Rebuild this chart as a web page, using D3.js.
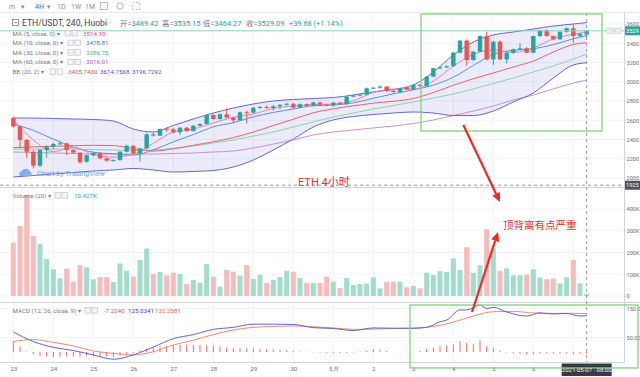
<!DOCTYPE html>
<html>
<head>
<meta charset="utf-8">
<script src="https://cdn.jsdelivr.net/npm/d3@7"></script>
<style>
  body { margin: 0; background: #fff; }
  svg { display: block; font-family: Roboto, "Noto Sans CJK SC", sans-serif; }
</style>
</head>
<body>
<div id="chart"></div>
<script>
//
// ETH/USDT 4H, Huobi - candles, MA, BB, volume, MACD
//

// x axis: one grid line per day, 6 candles per day ("7" sits under the date tag)
var dayIdx = [0, 6, 12, 18, 24, 30, 36, 42, 48, 54, 60, 66, 72, 78, 84];
var dayLabels = ["23", "24", "25", "26", "27", "28", "29", "30", "5月", "2", "3", "4", "5", "6"];

var opens  = [2623,2536,2395,2273,2128,2291,2325,2353,2360,2291, 2263,2170,2236,2260,2204,2180,2186,2273,2335,2256,
              2308,2453,2440,2513,2506,2475,2522,2488,2543,2561, 2655,2613,2662,2627,2600,2683,2678,2730,2738,2728,
              2745,2760,2772,2732,2768,2752,2785,2762,2755,2782, 2768,2845,2858,2866,2932,2938,2950,2906,2892,2945,
              2920,2968,2955,3053,3140,3150,3162,3302,3427,3226, 3312,3475,3233,3416,3233,3302,3337,3348,3302,3475,
              3530,3475,3441,3520,3555,3475,3489.42];
var highs  = [2640,2548,2405,2290,2300,2340,2365,2384,2368,2300, 2270,2245,2275,2266,2215,2195,2280,2345,2345,2315,
              2470,2470,2515,2525,2520,2530,2530,2550,2570,2665, 2665,2670,2724,2635,2690,2700,2735,2748,2755,2758,
              2768,2780,2778,2775,2775,2792,2790,2770,2790,2790, 2850,2870,2880,2940,2945,2960,2955,2912,2940,2950,
              2975,2975,3060,3145,3165,3170,3310,3435,3440,3320, 3480,3520,3425,3430,3320,3345,3400,3360,3480,3535,
              3545,3480,3525,3565,3595,3510,3535.15];
var lows   = [2520,2312,2208,2100,2115,2210,2300,2340,2239,2250, 2150,2155,2225,2195,2170,2168,2180,2265,2250,2170,
              2300,2430,2435,2480,2465,2446,2480,2482,2535,2555, 2605,2605,2620,2568,2595,2568,2672,2720,2720,2700,
              2712,2750,2720,2725,2740,2745,2755,2745,2740,2760, 2760,2835,2850,2860,2925,2930,2895,2885,2888,2915,
              2915,2945,2948,3045,3130,3140,3155,3295,3165,3215, 3305,3220,3174,3225,3190,3290,3330,3295,3295,3465,
              3470,3430,3435,3510,3400,3465,3464.27];
var closes = [2536,2395,2273,2128,2291,2325,2353,2360,2291,2263, 2163,2236,2260,2204,2180,2186,2273,2335,2256,2308,
              2453,2440,2509,2506,2475,2522,2488,2543,2561,2655, 2613,2662,2627,2600,2683,2678,2730,2738,2728,2745,
              2760,2772,2732,2768,2752,2785,2762,2755,2782,2768, 2845,2858,2866,2932,2938,2950,2906,2892,2932,2920,
              2968,2955,3053,3140,3150,3162,3302,3427,3226,3312, 3475,3233,3416,3233,3302,3337,3348,3302,3475,3530,
              3475,3441,3520,3555,3475,3495,3529.09];

// volume in thousands
var volumes = [245,322,464,276,239,170,123,81,126,66, 142,132,77,87,87,64,150,116,89,166,
               218,101,110,95,107,101,55,74,61,147, 89,43,120,112,94,142,78,98,60,74,
               87,116,112,83,60,60,60,89,66,37, 83,50,55,58,86,35,66,66,66,40,
               47,35,107,96,115,110,173,120,224,107, 142,307,219,116,127,95,95,98,123,86,
               77,81,58,86,166,58,10.4];

// indicator lines, read every 3 candles
var lineIdx = [0,3,6,9,12,15,18,21,24,27, 30,33,36,39,42,45,48,51,54,57, 60,63,66,69,72,75,78,81,84,86];
var ma5     = [2603,2395,2274,2319,2244,2216,2248,2360,2478,2508, 2572,2631,2664,2724,2747,2762,2768,2802,2888,2924,
               2924,3007,3162,3285,3333,3304,3353,3445,3493,3514.10];
var ma10    = [2560,2495,2404,2321,2268,2251,2238,2292,2376,2451, 2532,2575,2635,2681,2717,2751,2758,2780,2829,2874,
               2916,2965,3047,3169,3284,3327,3343,3386,3446,3478.81];
var ma30    = [2301,2301,2301,2301,2296,2291,2286,2291,2307,2332, 2364,2395,2436,2478,2530,2582,2634,2675,2717,2753,
               2790,2831,2873,2925,2982,3039,3101,3164,3236,3286.75];
var ma60    = [2270,2265,2260,2255,2249,2249,2249,2249,2255,2260, 2270,2281,2312,2353,2395,2447,2478,2499,2520,2540,
               2566,2603,2649,2696,2748,2810,2862,2925,2987,3016.01];
var bbUpper = [2623,2623,2618,2613,2608,2592,2509,2478,2546,2613, 2675,2727,2769,2800,2816,2826,2836,2862,2894,2920,
               2966,3101,3278,3413,3486,3517,3548,3579,3600,3614.76];
var bbBasis = [2316,2324,2330,2335,2340,2337,2304,2280,2304,2340, 2376,2420,2478,2545,2610,2678,2719,2750,2777,2797,
               2826,2888,2963,3031,3091,3153,3215,3309,3387,3405.74];
var bbLower = [2010,2026,2042,2057,2073,2083,2099,2083,2062,2068, 2078,2114,2187,2291,2405,2530,2603,2639,2660,2675,
               2686,2675,2649,2649,2696,2790,2883,3039,3174,3196.73];

// MACD (12, 26, 9)
var macdIdx  = [0,3,6,9,12,15,18,21,24,27, 30,33,36,39,42,45,48,51,54,57, 60,62,64,65,67,68,70,71,72,74, 77,79,81,83,85,86];
var macdLine = [69,36,16,5,-10,-25,-10,17,46,60, 78,85,96,96,95,84,81,74,83,82, 82,85,104,110,145,145,162,150,154,138, 124,135,131,133,124,125.03];
var signalLine = [36,43,33,21,3.5,-4.5,-10,1,24,41, 60,76,85,88,90,87,83,78,79,81, 82,88,103,124,139,140,134.5,133,133.5,132.26];
var macdHist = [38,20,2,-8,-14,-16,-17,-17,-16,-16, -16,-15,-15,-15,-16,-18,-12,-6,-3,5,
                12,16,20,22,24,25,25,24,24,23, 22,20,15,12,13,12,12,11,10,9,
                8,6,4,2,1,-1,-2,-3,-3,-4, -3,-2,2,5,10,8,4,0,-1,-1,
                1,4,11,15,20,23,26,38,31,26, 40,20,15,5,-2,-4,-6,-8,-6,-5,
                -4,-6,-5,-4,-6,-6,-7.224];

// tick labels
var priceTicks = [2000, 2200, 2400, 2600, 2800, 3000, 3200, 3400, 3600];
var volTicks = [0, 100, 200, 300, 400];
var macdTicks = [50, 150];
var macdTickLabels = ["50.00", "150.0"];

var W = 640, H = 377, plotRight = 624;
var pane = {
  main: {top: 13, bottom: 187},
  vol:  {top: 188, bottom: 302},
  macd: {top: 303, bottom: 362}
};

var x = d3.scaleLinear().domain([0, 86]).range([13.33, 586.67]);
var yPrice = d3.scaleLinear().domain([2000, 3600]).range([178, 24]);
var yVol = d3.scaleLinear().domain([0, 400]).range([296, 209]);
var yMacd = d3.scaleLinear().domain([0, 150]).range([352, 308.5]);

var up = "#26a69a", down = "#ef5350";
var txt = "#787b86", grid = "#f0f3fa", border = "#d1d4dc";

var svg = d3.select("#chart").append("svg")
    .attr("width", W)
    .attr("height", H);
svg.append("rect").attr("width", W).attr("height", H).attr("fill", "#fff");

var defs = svg.append("defs");
Object.keys(pane).forEach(function(k) {
  defs.append("clipPath").attr("id", "clip-" + k)
    .append("rect")
      .attr("x", 0).attr("y", pane[k].top)
      .attr("width", plotRight).attr("height", pane[k].bottom - pane[k].top);
});

// grid
var gridG = svg.append("g");
gridG.selectAll(".vgrid").data(dayIdx).enter().append("line")
    .attr("x1", function(d) { return x(d); }).attr("x2", function(d) { return x(d); })
    .attr("y1", pane.main.top).attr("y2", pane.macd.bottom)
    .attr("stroke", grid);
gridG.selectAll(".pgrid").data(priceTicks).enter().append("line")
    .attr("x1", 0).attr("x2", plotRight)
    .attr("y1", function(d) { return yPrice(d); }).attr("y2", function(d) { return yPrice(d); })
    .attr("stroke", grid);
gridG.selectAll(".vlgrid").data(volTicks).enter().append("line")
    .attr("x1", 0).attr("x2", plotRight)
    .attr("y1", function(d) { return yVol(d); }).attr("y2", function(d) { return yVol(d); })
    .attr("stroke", grid);
gridG.selectAll(".mgrid").data(macdTicks).enter().append("line")
    .attr("x1", 0).attr("x2", plotRight)
    .attr("y1", function(d) { return yMacd(d); }).attr("y2", function(d) { return yMacd(d); })
    .attr("stroke", grid);

function lineFrom(idx, vals, scale) {
  return d3.line()
    .x(function(d, k) { return x(idx[k]); })
    .y(function(d) { return scale(d); })
    .curve(d3.curveMonotoneX)(vals);
}

// ---- main pane
var main = svg.append("g").attr("clip-path", "url(#clip-main)");

main.append("path")
    .attr("d", d3.area()
      .x(function(d, k) { return x(lineIdx[k]); })
      .y0(function(d, k) { return yPrice(bbLower[k]); })
      .y1(function(d) { return yPrice(d); })
      .curve(d3.curveMonotoneX)(bbUpper))
    .attr("fill", "rgba(98, 100, 210, 0.13)");

var lines = [
  {vals: ma60, color: "#cf8fcc"},
  {vals: ma30, color: "#8fd3a6"},
  {vals: bbBasis, color: "#e9626a"},
  {vals: bbUpper, color: "#6366d6"},
  {vals: bbLower, color: "#6366d6"},
  {vals: ma10, color: "#5b8fe8"},
  {vals: ma5, color: "#e67fc0"}
];
lines.forEach(function(l) {
  main.append("path")
      .attr("d", lineFrom(lineIdx, l.vals, yPrice))
      .attr("fill", "none")
      .attr("stroke", l.color)
      .attr("stroke-width", 1);
});

var candles = main.selectAll(".candle").data(opens).enter().append("g");
candles.append("line")
    .attr("x1", function(d, i) { return x(i); }).attr("x2", function(d, i) { return x(i); })
    .attr("y1", function(d, i) { return yPrice(highs[i]); })
    .attr("y2", function(d, i) { return yPrice(lows[i]); })
    .attr("stroke", function(d, i) { return closes[i] >= d ? up : down; });
candles.append("rect")
    .attr("x", function(d, i) { return x(i) - 2.2; })
    .attr("width", 4.4)
    .attr("y", function(d, i) { return yPrice(Math.max(d, closes[i])); })
    .attr("height", function(d, i) { return Math.max(1, Math.abs(yPrice(d) - yPrice(closes[i]))); })
    .attr("fill", function(d, i) { return closes[i] >= d ? up : down; });

// last price line
var lastClose = closes[closes.length - 1];
svg.append("line")
    .attr("x1", 0).attr("x2", plotRight)
    .attr("y1", yPrice(lastClose)).attr("y2", yPrice(lastClose))
    .attr("stroke", "#86d3bd").attr("stroke-width", 1);

// ---- volume pane
var vol = svg.append("g").attr("clip-path", "url(#clip-vol)");
vol.selectAll("rect").data(volumes).enter().append("rect")
    .attr("x", function(d, i) { return x(i) - 2.5; })
    .attr("width", 5)
    .attr("y", function(d) { return yVol(d); })
    .attr("height", function(d) { return yVol(0) - yVol(d); })
    .attr("fill", function(d, i) { return closes[i] >= opens[i] ? "#a2dccb" : "#f8baba"; });

// ---- macd pane
var macd = svg.append("g").attr("clip-path", "url(#clip-macd)");
macd.selectAll("rect").data(macdHist).enter().append("rect")
    .attr("x", function(d, i) { return x(i) - 0.5; })
    .attr("width", 1)
    .attr("y", function(d) { return yMacd(Math.max(0, d)); })
    .attr("height", function(d) { return Math.abs(yMacd(0) - yMacd(d)); })
    .attr("fill", "#f06a6a");
macd.append("path")
    .attr("d", lineFrom(lineIdx, signalLine, yMacd))
    .attr("fill", "none").attr("stroke", "#f08a6c").attr("stroke-width", 1);
macd.append("path")
    .attr("d", lineFrom(macdIdx, macdLine, yMacd))
    .attr("fill", "none").attr("stroke", "#5d62dc").attr("stroke-width", 1);

// ---- borders, separators, crosshair
svg.append("line").attr("x1", 0).attr("x2", W).attr("y1", 12.5).attr("y2", 12.5).attr("stroke", "#e6e8ee");
svg.append("line").attr("x1", 0).attr("x2", W).attr("y1", 187.5).attr("y2", 187.5).attr("stroke", border);
svg.append("line").attr("x1", 0).attr("x2", W).attr("y1", 302.5).attr("y2", 302.5).attr("stroke", border);
svg.append("line").attr("x1", 0).attr("x2", plotRight).attr("y1", 362.5).attr("y2", 362.5).attr("stroke", border);
svg.append("line").attr("x1", plotRight + 0.5).attr("x2", plotRight + 0.5).attr("y1", 12.5).attr("y2", 362.5).attr("stroke", border);

var crossPrice = 1925;
svg.append("line")
    .attr("x1", x(86)).attr("x2", x(86)).attr("y1", 13).attr("y2", 362)
    .attr("stroke", "#9598a1").attr("stroke-dasharray", "3,3");
svg.append("line")
    .attr("x1", 0).attr("x2", plotRight).attr("y1", yPrice(crossPrice)).attr("y2", yPrice(crossPrice))
    .attr("stroke", "#9598a1").attr("stroke-dasharray", "3,3");

// ---- axes
function styleAxis(g) {
  g.select(".domain").remove();
  g.selectAll("line").attr("stroke", border);
  g.selectAll("text").attr("font-size", "5.6px").attr("fill", "#6a6d78").attr("font-family", "Roboto, sans-serif");
}
svg.append("g").attr("transform", "translate(" + (plotRight + 0.5) + ",0)")
    .call(d3.axisRight(yPrice).tickValues(priceTicks).tickSize(1.5).tickPadding(0.5).tickFormat(d3.format("d")))
    .call(styleAxis);
svg.append("g").attr("transform", "translate(" + (plotRight + 0.5) + ",0)")
    .call(d3.axisRight(yVol).tickValues(volTicks).tickSize(1.5).tickPadding(0.5)
      .tickFormat(function(d) { return d ? d + "K" : "0"; }))
    .call(styleAxis);
svg.append("g").attr("transform", "translate(" + (plotRight + 0.5) + ",0)")
    .call(d3.axisRight(yMacd).tickValues(macdTicks).tickSize(1.5).tickPadding(0.5)
      .tickFormat(function(d, i) { return macdTickLabels[i]; }))
    .call(styleAxis);
svg.append("g").attr("transform", "translate(0," + pane.macd.bottom + ")")
    .call(d3.axisBottom(x).tickValues(dayIdx.slice(0, dayLabels.length)).tickSize(0).tickPadding(5)
      .tickFormat(function(d, i) { return dayLabels[i]; }))
    .call(function(g) {
      styleAxis(g);
      g.selectAll("text").attr("font-size", "6.2px");
    });

// axis price tags
function tag(y, w, label, fill) {
  svg.append("rect").attr("x", plotRight + 1).attr("y", y - 4.5).attr("width", w).attr("height", 9).attr("fill", fill);
  svg.append("text").attr("x", plotRight + 2).attr("y", y + 2).attr("font-size", "5.6px")
      .attr("fill", "#fff").text(label);
}
tag(yPrice(lastClose), 15, "3529", up);
tag(yPrice(crossPrice), 15, String(crossPrice), "#4c525e");
svg.append("rect").attr("x", 607).attr("y", yPrice(lastClose) - 2.8).attr("width", 6).attr("height", 5.5)
    .attr("fill", "#eceef3").attr("stroke", "#c3c6ce").attr("stroke-width", 0.6);
svg.append("rect").attr("x", 615).attr("y", yPrice(lastClose) - 2.8).attr("width", 6).attr("height", 5.5)
    .attr("fill", "#eceef3").attr("stroke", "#c3c6ce").attr("stroke-width", 0.6);

// date tag under crosshair
svg.append("rect").attr("x", x(86) - 25).attr("y", 363.5).attr("width", 50).attr("height", 12.5).attr("fill", "#363a45");
svg.append("text").attr("x", x(86)).attr("y", 372).attr("text-anchor", "middle")
    .attr("font-size", "6px").attr("fill", "#fff").text("2021-05-07 · 08:00");

// ---- header / legends
var tb = svg.append("g").attr("font-size", "7px").attr("fill", "#8a8d96");
tb.append("text").attr("x", 9).attr("y", 8.5).text("m");
tb.append("text").attr("x", 21).attr("y", 8.5).text("▾");
tb.append("text").attr("x", 35).attr("y", 8.5).attr("fill", "#2962ff").text("4H");
tb.append("text").attr("x", 47).attr("y", 8.5).text("▾");
tb.append("text").attr("x", 57).attr("y", 8.5).text("1D");
tb.append("text").attr("x", 71).attr("y", 8.5).text("1W");
tb.append("text").attr("x", 85).attr("y", 8.5).text("1M");
tb.append("rect").attr("x", 100.5).attr("y", 2.5).attr("width", 7).attr("height", 7).attr("fill", "none").attr("stroke", "#9a9da6").attr("stroke-width", 0.7);
tb.append("circle").attr("cx", 120).attr("cy", 6).attr("r", 3.2).attr("fill", "none").attr("stroke", "#9a9da6").attr("stroke-width", 0.8);
tb.append("rect").attr("x", 132.5).attr("y", 2.5).attr("width", 7).attr("height", 7).attr("fill", "none").attr("stroke", "#9a9da6").attr("stroke-width", 0.7).attr("stroke-dasharray", "2,2");

svg.append("rect").attr("x", 12.5).attr("y", 19.5).attr("width", 6).attr("height", 6).attr("fill", "none").attr("stroke", "#6a6d78").attr("stroke-width", 0.7);
svg.append("line").attr("x1", 14).attr("x2", 17).attr("y1", 22.5).attr("y2", 22.5).attr("stroke", "#6a6d78").attr("stroke-width", 0.7);
svg.append("text").attr("x", 22).attr("y", 25.8).attr("font-size", "8.6px").attr("fill", "#434651")
    .text("ETH/USDT, 240, Huobi");
svg.append("text").attr("x", 110).attr("y", 25).attr("font-size", "7px").attr("fill", txt).text("·");

var ohlcLabels = ["开=", "高=", "低=", "收="];
var ohlcVals = ["3489.42", "3535.15", "3464.27", "3529.09"];
var ohlcX = [120, 162, 203, 246];
ohlcLabels.forEach(function(l, k) {
  var t = svg.append("text").attr("x", ohlcX[k]).attr("y", 25.5).attr("font-size", "7.4px");
  t.append("tspan").attr("fill", txt).text(l);
  t.append("tspan").attr("fill", up).text(ohlcVals[k]);
});
svg.append("text").attr("x", 289).attr("y", 25.5).attr("font-size", "7.4px").attr("fill", up).text("+39.68 (+1.14%)");

function icons(g, x0, yc) {
  [0, 7].forEach(function(dx) {
    g.append("rect").attr("x", x0 + dx).attr("y", yc - 2.7).attr("width", 5.5).attr("height", 5.5)
      .attr("fill", "#f3f4f7").attr("stroke", "#b8bbc4").attr("stroke-width", 0.6);
  });
}
function legendRow(label, yb, iconX, vals) {
  var g = svg.append("g").attr("font-size", "6.2px");
  g.append("text").attr("x", 12.5).attr("y", yb).attr("fill", txt).text(label + " ▾");
  icons(g, iconX, yb - 2.2);
  vals.forEach(function(v) {
    g.append("text").attr("x", v.x).attr("y", yb).attr("fill", v.color).text(v.text);
  });
}
legendRow("MA (5, close, 0)", 35.5, 65, [{x: 83, text: "3514.10", color: "#e5479d"}]);
legendRow("MA (10, close, 0)", 45, 68, [{x: 86, text: "3478.81", color: "#3d7be6"}]);
legendRow("MA (30, close, 0)", 54.6, 68, [{x: 86, text: "3286.75", color: "#4cba6a"}]);
legendRow("MA (60, close, 0)", 64.2, 68, [{x: 86, text: "3016.01", color: "#b260b8"}]);
legendRow("BB (20, 2)", 73.8, 50, [
  {x: 68, text: "3405.7430", color: "#ef5350"},
  {x: 100, text: "3614.7568", color: "#4c4fd6"},
  {x: 132, text: "3196.7292", color: "#4c4fd6"}
]);
legendRow("Volume (20)", 197.5, 55, [{x: 74, text: "10.427K", color: up}]);
legendRow("MACD (12, 26, close, 9)", 312.5, 85, [
  {x: 104, text: "-7.2240", color: "#ef5350"},
  {x: 128, text: "125.0341", color: "#3d45d6"},
  {x: 155, text: "132.2581", color: "#ef6a50"}
]);

// watermark
var wm = svg.append("g").attr("transform", "translate(19,168)");
wm.append("path").attr("d", "M1,8 a3,3 0 0,1 2,-5 a4.5,4.5 0 0,1 8,0.5 a3,3 0 0,1 1,4.5 z").attr("fill", "#7fb0ec");
wm.append("text").attr("x", 18).attr("y", 7.5).attr("font-size", "7.2px").attr("fill", "#6aa3ea").text("Chart by TradingView");

// ---- annotations (anchored in data units)
var green = "#86cf7e", red = "#ee2a24";
var box1 = {i0: 61.15, i1: 88.3, p0: 3704, p1: 2488};
svg.append("rect")
    .attr("x", x(box1.i0)).attr("y", yPrice(box1.p0))
    .attr("width", x(box1.i1) - x(box1.i0)).attr("height", yPrice(box1.p1) - yPrice(box1.p0))
    .attr("fill", "none").attr("stroke", green).attr("stroke-width", 1.3);
var box2 = {i0: 59.5, i1: 93.7, m0: 162, m1: -55};
svg.append("rect")
    .attr("x", x(box2.i0)).attr("y", yMacd(box2.m0))
    .attr("width", x(box2.i1) - x(box2.i0)).attr("height", yMacd(box2.m1) - yMacd(box2.m0))
    .attr("fill", "none").attr("stroke", green).attr("stroke-width", 1.3);

function arrow(x1, y1, x2, y2) {
  var a = Math.atan2(y2 - y1, x2 - x1), L = 9, Wd = 4.2;
  var bx = x2 - L * Math.cos(a), by = y2 - L * Math.sin(a);
  svg.append("line").attr("x1", x1).attr("y1", y1).attr("x2", bx).attr("y2", by)
      .attr("stroke", red).attr("stroke-width", 2.2);
  svg.append("path")
      .attr("d", "M" + x2 + "," + y2 +
                 "L" + (bx - Wd * Math.sin(a)) + "," + (by + Wd * Math.cos(a)) +
                 "L" + (bx + Wd * Math.sin(a)) + "," + (by - Wd * Math.cos(a)) + "Z")
      .attr("fill", red);
}
arrow(x(67.5), yPrice(2551), x(73), yVol(432));
arrow(x(68.8), yMacd(138), x(72.7), yVol(294));

svg.append("text").attr("x", x(42.7)).attr("y", yPrice(1917))
    .attr("font-size", "11px").attr("fill", "#e8312b").text("ETH 4小时");
svg.append("text").attr("x", x(73.45)).attr("y", yVol(310))
    .attr("font-size", "10.5px").attr("fill", "#e8312b").text("顶背离有点严重");
</script>
</body>
</html>
